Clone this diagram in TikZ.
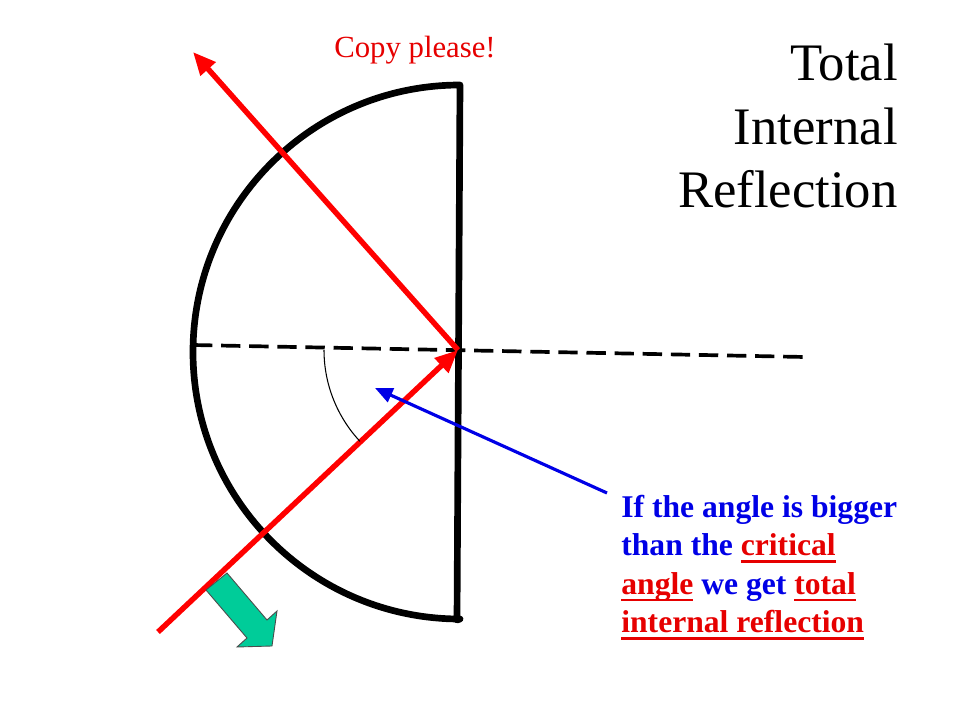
\documentclass[tikz,border=0pt]{standalone}
\usepackage{fontspec}
\setmainfont{Liberation Serif}
\usetikzlibrary{arrows.meta}
\definecolor{rayred}{RGB}{255,0,0}
\definecolor{noteblue}{RGB}{0,0,230}
\definecolor{notered}{RGB}{230,0,0}
\definecolor{normalgreen}{RGB}{0,204,153}
\newcommand{\redul}[1]{{\color{notered}\setbox0\hbox{#1}\rlap{\rule[-4pt]{\wd0}{1.4pt}}\box0}}

\begin{document}
\begin{tikzpicture}[x=0.02cm,y=-0.02cm,
		ray/.style={draw=rayred,line width=3.1pt,-{Triangle[length=13pt,width=11pt]}},
		glass/.style={line width=3.8pt,line cap=round,line join=round},
		normal line/.style={line width=2.1pt,dash pattern=on 11pt off 5pt},
		pointer/.style={draw=noteblue,line width=1.8pt,-{Triangle[length=10pt,width=8.5pt]}},
		title node/.style={align=right,inner sep=0pt,font=\fontsize{30}{36}\selectfont},
		note node/.style={align=left,inner sep=0pt,text=noteblue,font=\fontsize{18}{21.8}\selectfont\bfseries}]

		\useasboundingbox (0,0) rectangle (960,720);

		% glass block
		\coordinate (top) at (460,85);
		\coordinate (bottom) at (457,620);
		\coordinate (O) at (458,350);
		\draw[glass] (bottom) -- (top) arc[start angle=270,end angle=90,radius=267] -- cycle;

		% normal
		\coordinate (nl) at (193,345);
		\coordinate (nr) at (805,357);
		\draw[normal line] (nl) -- (nr);

		% rays
		\coordinate (src) at (158,632);
		\coordinate (out) at (193,52);
		\draw[ray] (src) -- (O);
		\draw[ray] (O) -- (out);

		% angle
		\draw[line width=0.6pt] (324,350) arc[start angle=180,end angle=137,radius=134];

		% refracted light
		\filldraw[fill=normalgreen,draw=black!70,line width=0.5pt]
		(206,590) -- (227,573) -- (267,620) -- (277,611) -- (272,646) -- (237,647) -- (247,638) -- cycle;

		% texts
		\node[text=notered,font=\fontsize{17.5}{20}\selectfont,anchor=base] (copy) at (415,57) {Copy please!};
		\node[title node,anchor=north east] (title) at (898,44) {Total\\Internal\\Reflection};
		\node[note node,anchor=north west] (note) at (621,495)
		{If the angle is bigger\\than the \redul{critical}\\\redul{angle} we get \redul{total}\\\redul{internal reflection}};

		\coordinate (tail) at (607,493);
		\coordinate (aim) at (375,388);
		\draw[pointer] (tail) -- (aim);
		\end{tikzpicture}
\end{document}
